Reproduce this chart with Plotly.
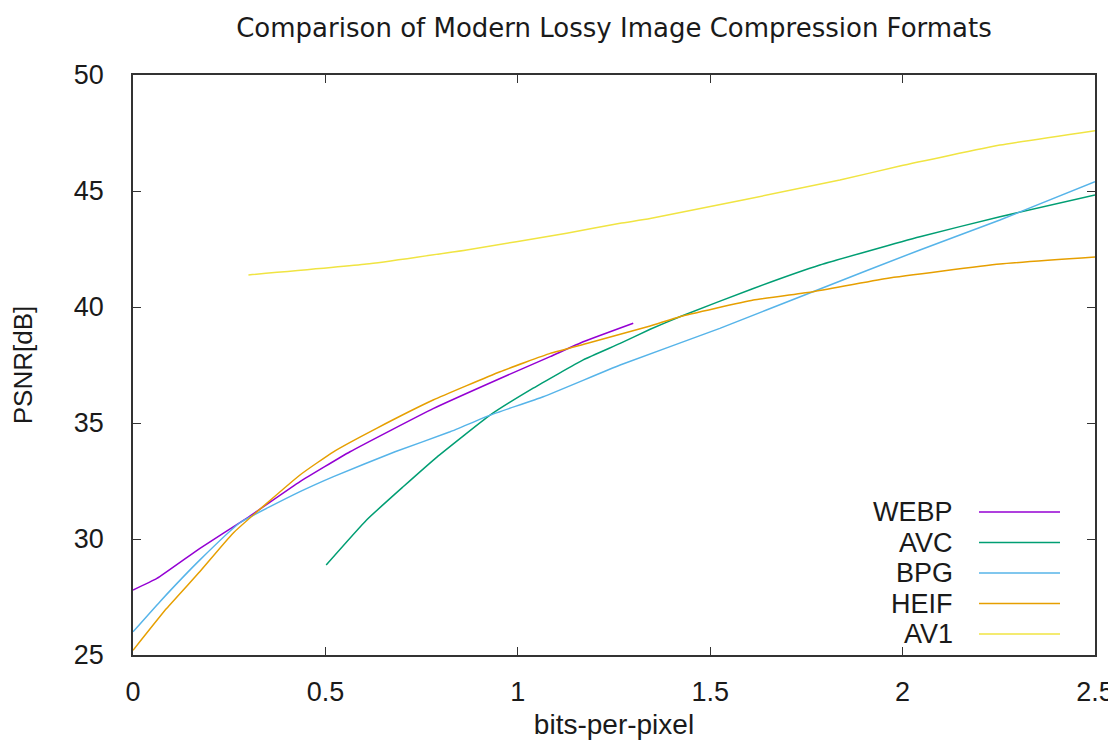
import plotly.graph_objects as go

# ---- data ----
webp_x = [0.0, 0.062, 0.174, 0.296, 0.434, 0.564, 0.78, 0.954, 1.084, 1.17, 1.30]
webp_y = [27.8, 28.3, 29.6, 30.9, 32.47, 33.76, 35.62, 36.92, 37.86, 38.5, 39.3]

avc_x = [0.502, 0.607, 0.702, 0.789, 0.928, 1.04, 1.17, 1.266, 1.344, 1.421, 1.612, 1.785, 2.045, 2.253, 2.5]
avc_y = [28.88, 30.82, 32.25, 33.52, 35.34, 36.5, 37.72, 38.43, 39.04, 39.58, 40.8, 41.81, 43.03, 43.89, 44.83]

bpg_x = [0.0, 0.07, 0.174, 0.278, 0.434, 0.521, 0.681, 0.824, 0.928, 1.066, 1.266, 1.525, 1.767, 2.045, 2.253, 2.5]
bpg_y = [26.0, 27.3, 29.1, 30.7, 32.04, 32.69, 33.76, 34.62, 35.34, 36.13, 37.5, 39.08, 40.66, 42.46, 43.75, 45.4]

heif_x = [0.0, 0.087, 0.174, 0.26, 0.434, 0.521, 0.633, 0.78, 0.954, 1.084, 1.179, 1.344, 1.421, 1.612, 1.767, 1.958, 2.253, 2.5]
heif_y = [25.2, 27.0, 28.6, 30.25, 32.76, 33.76, 34.77, 35.99, 37.21, 38.0, 38.43, 39.18, 39.58, 40.30, 40.66, 41.23, 41.85, 42.15]

av1_x = [0.30, 0.607, 0.867, 1.127, 1.266, 1.344, 1.837, 1.993, 2.253, 2.5]
av1_y = [41.38, 41.85, 42.46, 43.18, 43.61, 43.81, 45.47, 46.08, 46.98, 47.6]

series_names = ["WEBP", "AVC", "BPG", "HEIF", "AV1"]
series_x = [webp_x, avc_x, bpg_x, heif_x, av1_x]
series_y = [webp_y, avc_y, bpg_y, heif_y, av1_y]
series_colors = ["#9400d3", "#009e73", "#56b4e9", "#e69f00", "#f0e442"]

x_tickvals = [0, 0.5, 1, 1.5, 2, 2.5]
x_ticktext = ["0", "0.5", "1", "1.5", "2", "2.5"]
y_tickvals = [25, 30, 35, 40, 45, 50]
y_ticktext = ["25", "30", "35", "40", "45", "50"]

title_text = "Comparison of Modern Lossy Image Compression Formats"
x_title = "bits-per-pixel"
y_title = "PSNR[dB]"

# ---- figure ----
# the page body adds an 8px offset, so the figure is drawn 8px smaller
OFF = 8
W, H = 1116 - OFF, 740 - OFF
L, R, T, B = 133 - OFF, 21, 75 - OFF, 85
pw, ph = W - L - R, H - T - B
FONT = "Liberation Sans, Arial, sans-serif"
TXT = "#1a1a1a"

fig = go.Figure()
for name, xs, ys, col in zip(series_names, series_x, series_y, series_colors):
    fig.add_trace(go.Scatter(x=xs, y=ys, mode="lines", name=name,
                             line=dict(color=col, width=1.5, shape="spline", smoothing=0.4),
                             showlegend=False))

# gnuplot-style legend: text on the left, line sample on the right (screen px)
row0_py, row_gap = 512, 30.5
for i, (name, col) in enumerate(zip(series_names, series_colors)):
    py = row0_py + i * row_gap - OFF
    yp = (H - B - py) / ph
    fig.add_annotation(x=(955 - OFF - L) / pw, y=yp, xref="paper", yref="paper",
                       text=name, showarrow=False, xanchor="right", yanchor="middle",
                       font=dict(family=FONT, size=27, color=TXT))
    fig.add_shape(type="line", xref="paper", yref="paper",
                  x0=(979 - OFF - L) / pw, x1=(1060 - OFF - L) / pw, y0=yp, y1=yp,
                  line=dict(color=col, width=1.5))

axis_common = dict(showline=True, linecolor="#333333", linewidth=1.5, mirror="ticks",
                   ticks="inside", ticklen=8, tickwidth=1.2, tickcolor="#333333",
                   showgrid=False, zeroline=False, automargin=False,
                   tickfont=dict(family=FONT, size=27, color=TXT))

fig.update_layout(
    width=W, height=H,
    margin=dict(l=L, r=R, t=T, b=B, autoexpand=False),
    paper_bgcolor="white", plot_bgcolor="white",
    title=dict(text=title_text, x=0.5, xref="paper", xanchor="center",
               y=1 - (28 - OFF) / H, yref="container", yanchor="middle", automargin=False,
               font=dict(family="DejaVu Sans, sans-serif", size=26, color=TXT)),
    xaxis=dict(range=[0, 2.5], tickvals=x_tickvals, ticktext=x_ticktext,
               ticklabelstandoff=12,
               title=dict(text=x_title, standoff=18,
                          font=dict(family=FONT, size=28, color=TXT)),
               **axis_common),
    yaxis=dict(range=[25, 50], tickvals=y_tickvals, ticktext=y_ticktext,
               ticklabelstandoff=22,
               title=dict(text=y_title, standoff=40,
                          font=dict(family=FONT, size=26, color=TXT)),
               **axis_common),
)

fig.write_html("out.html")
